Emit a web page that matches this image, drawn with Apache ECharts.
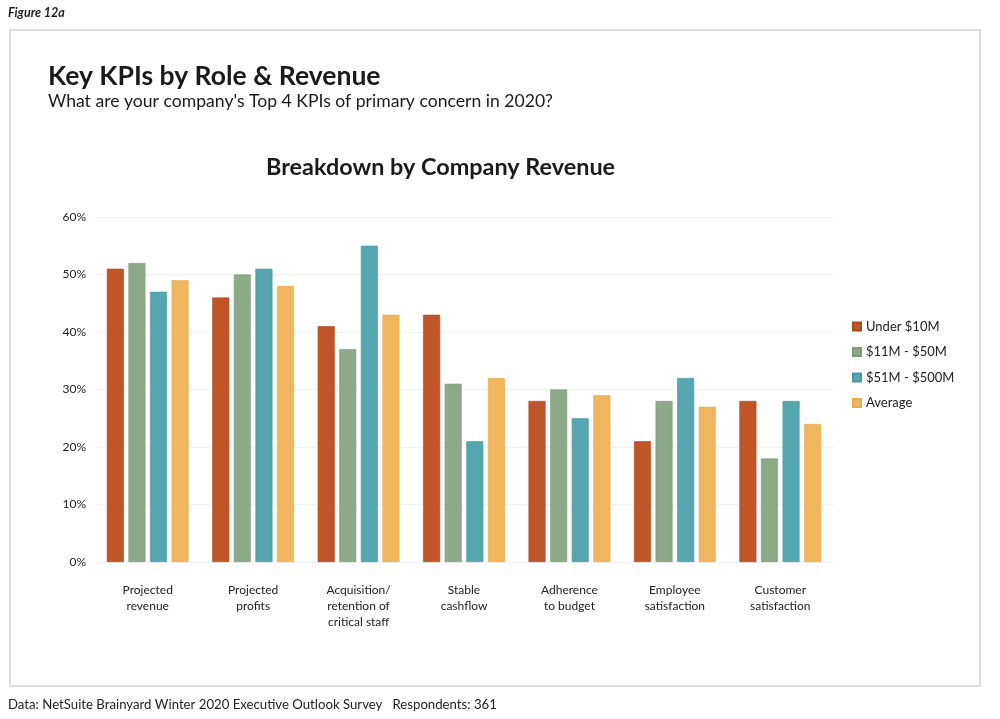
<!DOCTYPE html>
<html>
<head>
<meta charset="utf-8">
<script src="https://cdn.jsdelivr.net/npm/echarts@6/dist/echarts.min.js"></script>
<style>
  html, body { margin: 0; padding: 0; background: #fff; }
  #chart { width: 1000px; height: 719px; }
</style>
</head>
<body>
<div id="chart"></div>
<script>
// categories and series values (percent)
const categories = [
    'Projected\nrevenue',
    'Projected\nprofits',
    'Acquisition/\nretention of\ncritical staff',
    'Stable\ncashflow',
    'Adherence\nto budget',
    'Employee\nsatisfaction',
    'Customer\nsatisfaction'
]
const seriesNames = ['Under $10M', '$11M - $50M', '$51M - $500M', 'Average']
const under10M = [51, 46, 41, 43, 28, 21, 28]
const from11to50M = [52, 50, 37, 31, 30, 28, 18]
const from51to500M = [47, 51, 55, 21, 25, 32, 28]
const average = [49, 48, 43, 32, 29, 27, 24]
const yTicks = [0, 10, 20, 30, 40, 50, 60]

const colors = ['#c0552a', '#8daa88', '#56a6b1', '#f0b65e']
const borders = ['#a8481f', '#7f9a7a', '#4a97a1', '#e5aa52']
const font = 'Lato, "Open Sans", sans-serif'

let myChart = echarts.init(document.getElementById('chart'))

const seriesData = [under10M, from11to50M, from51to500M, average]
const series = seriesData.map((d, i) => ({
    name: seriesNames[i],
    type: 'bar',
    data: d,
    barWidth: 17,
    barGap: '27%',
    itemStyle: {
        color: colors[i],
        borderColor: borders[i],
        borderWidth: 0.6
    }
}))

const options = {
    backgroundColor: '#fff',
    animation: false,
    color: colors,
    textStyle: { fontFamily: font },
    graphic: [
        {
            type: 'rect',
            shape: { x: 10, y: 30, width: 970, height: 656 },
            style: { fill: '#fff', stroke: '#dedede', lineWidth: 2 },
            z: -10
        },
        {
            type: 'text', left: 8, top: 6,
            style: { text: 'Figure 12a', font: 'italic bold 12.5px ' + font, fill: '#222' }
        },
        {
            type: 'text', left: 48, top: 63,
            style: { text: 'Key KPIs by Role & Revenue', font: 'bold 26.5px ' + font, fill: '#1a1a1a' }
        },
        {
            type: 'text', left: 48, top: 92,
            style: { text: "What are your company's Top 4 KPIs of primary concern in 2020?", font: '17.6px ' + font, fill: '#1a1a1a' }
        },
        {
            type: 'text', left: 266, top: 156,
            style: { text: 'Breakdown by Company Revenue', font: 'bold 23.4px ' + font, fill: '#1a1a1a' }
        },
        {
            type: 'text', left: 8, top: 698,
            style: { text: 'Data: NetSuite Brainyard Winter 2020 Executive Outlook Survey   Respondents: 361', font: '13.2px ' + font, fill: '#222' }
        }
    ],
    legend: {
        orient: 'vertical',
        left: 847,
        top: 315,
        itemWidth: 8,
        itemHeight: 8,
        itemGap: 12.5,
        icon: 'rect',
        textStyle: { fontSize: 13, color: '#222', fontFamily: font },
        data: seriesNames
    },
    grid: {
        left: 95,
        right: 167,
        top: 217,
        bottom: 157
    },
    xAxis: {
        type: 'category',
        data: categories,
        axisLine: { show: false },
        axisTick: { show: false },
        axisLabel: {
            color: '#222',
            fontSize: 12,
            lineHeight: 16,
            margin: 20,
            interval: 0,
            fontFamily: font
        }
    },
    yAxis: {
        type: 'value',
        min: yTicks[0],
        max: yTicks[yTicks.length - 1],
        interval: 10,
        axisLine: { show: false },
        axisTick: { show: false },
        splitLine: { lineStyle: { color: '#f2f2f2', width: 1 } },
        axisLabel: {
            color: '#222',
            fontSize: 12,
            margin: 9,
            fontFamily: font,
            formatter: v => v + '%'
        }
    },
    series: series
}
myChart.setOption(options)
</script>
</body>
</html>
